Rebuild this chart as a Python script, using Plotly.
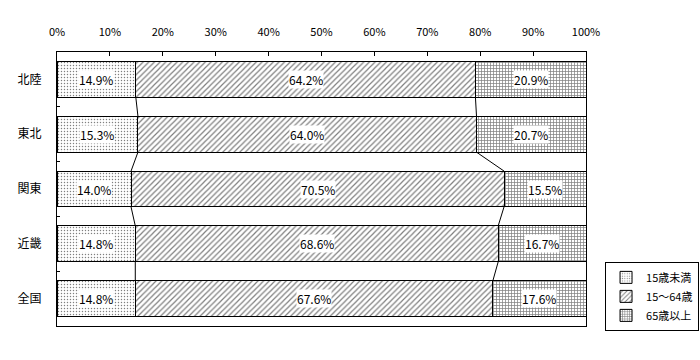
import plotly.graph_objects as go

regions = ["北陸", "東北", "関東", "近畿", "全国"]
under15 = [14.9, 15.3, 14.0, 14.8, 14.8]
age15_64 = [64.2, 64.0, 70.5, 68.6, 67.6]
over65 = [20.9, 20.7, 15.5, 16.7, 17.6]
series_names = ["15歳未満", "15～64歳", "65歳以上"]
x_ticks = [0, 10, 20, 30, 40, 50, 60, 70, 80, 90, 100]

FONT = "Noto Sans CJK JP, MS Gothic, sans-serif"
ypos = list(range(len(regions)))
BW = 0.655

fig = go.Figure()
patterns = [".", "/", "+"]
psize = [3, 4, 3]
psol = [0.18, 0.3, 0.42]
data = [under15, age15_64, over65]
for name, vals, pat, ps, so in zip(series_names, data, patterns, psize, psol):
    fig.add_trace(go.Bar(
        y=ypos, x=vals, orientation="h", name=name, width=BW,
        marker=dict(color="white", line=dict(color="black", width=1),
                    pattern=dict(shape=pat, fgcolor="black", bgcolor="white",
                                 size=ps, solidity=so)),
        hoverinfo="skip",
    ))

# cumulative boundaries
cum1 = under15
cum2 = [a + b for a, b in zip(under15, age15_64)]

# series lines between bars
for cum in (cum1, cum2):
    for i in range(len(regions) - 1):
        fig.add_trace(go.Scatter(
            x=[cum[i], cum[i + 1]], y=[i + BW / 2, i + 1 - BW / 2],
            mode="lines", line=dict(color="black", width=1),
            showlegend=False, hoverinfo="skip",
        ))

# labels
for i in range(len(regions)):
    starts = [0, cum1[i], cum2[i]]
    for s, vals in zip(starts, data):
        v = vals[i]
        fig.add_annotation(x=s + v / 2, y=i, text=f"{v:.1f}%", showarrow=False,
                           font=dict(family=FONT, size=12, color="black"),
                           bgcolor="white", borderpad=0)

# invisible trace to activate yaxis2 (boundary ticks)
fig.add_trace(go.Scatter(x=[None], y=[None], yaxis="y2", showlegend=False, hoverinfo="skip"))

fig.update_layout(
    width=700, height=360,
    barmode="stack",
    plot_bgcolor="white", paper_bgcolor="white",
    margin=dict(l=57, r=114, t=52, b=34, autoexpand=False),
    font=dict(family=FONT, size=11, color="black"),
    xaxis=dict(range=[0, 100], side="top", tickvals=x_ticks,
               ticktext=[f"{t}%" for t in x_ticks],
               ticks="inside", ticklen=4, tickcolor="black",
               showline=True, linecolor="black", linewidth=1, mirror=True,
               showgrid=False, zeroline=False, fixedrange=True, automargin=False,
               ticklabelstandoff=11,
               tickfont=dict(family=FONT, size=11)),
    yaxis=dict(range=[len(regions) - 0.5, -0.5], tickvals=ypos, ticktext=regions,
               ticks="", showline=True, linecolor="black", linewidth=1, mirror=True,
               showgrid=False, zeroline=False, ticklabelstandoff=12, automargin=False,
               fixedrange=True, tickfont=dict(family=FONT, size=12)),
    yaxis2=dict(range=[len(regions) - 0.5, -0.5], overlaying="y", side="left",
                tickvals=[i + 0.5 for i in range(len(regions) - 1)],
                ticks="inside", ticklen=3, tickcolor="black", automargin=False,
                showticklabels=False, showgrid=False, zeroline=False, showline=False),
    legend=dict(x=1.036, y=0.234, xanchor="left", yanchor="top",
                bordercolor="black", borderwidth=1, bgcolor="white",
                font=dict(family=FONT, size=11), traceorder="normal",
                itemwidth=30, tracegroupgap=0),
    showlegend=True,
)

fig.write_html("out.html", config={"displayModeBar": False},
               post_script="document.body.style.margin='0';document.body.style.padding='0';")
